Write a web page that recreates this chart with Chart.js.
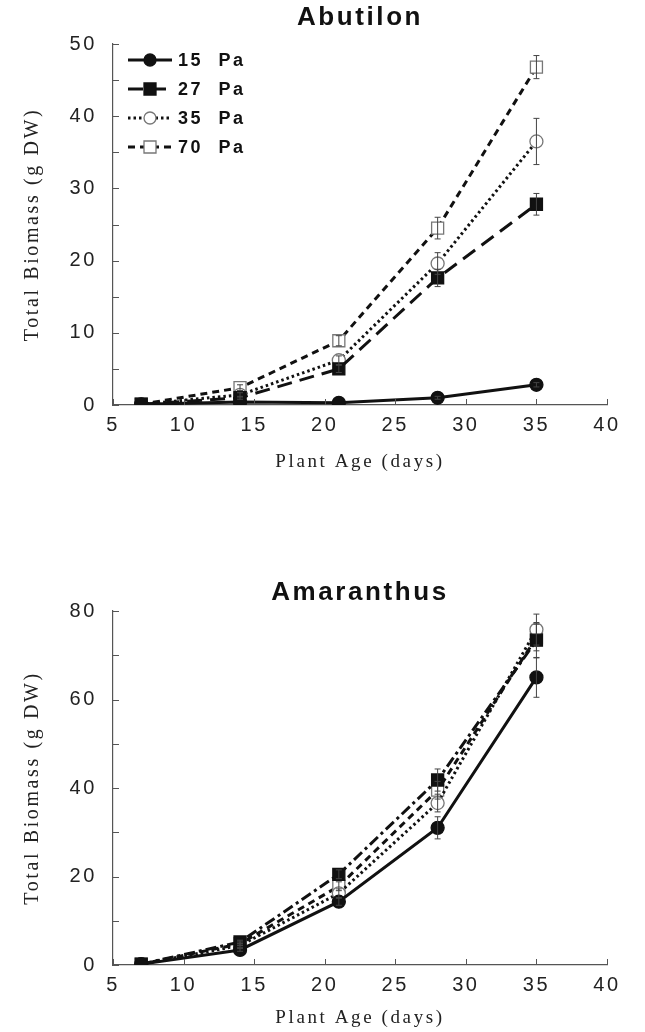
<!DOCTYPE html>
<html><head><meta charset="utf-8">
<script src="https://cdn.jsdelivr.net/npm/chart.js@4.4.0/dist/chart.umd.min.js"></script>
<style>
html,body{margin:0;padding:0;background:#fff;}
#w1{position:absolute;left:0;top:0;width:645px;height:490px;}
#w2{position:absolute;left:0;top:555px;width:645px;height:477px;}
</style></head><body>
<div id="w1"><canvas id="c1"></canvas></div>
<div id="w2"><canvas id="c2"></canvas></div>
<script>
// ---- data ----
const days = [7, 14, 21, 28, 35];
const seriesNames = ['15  Pa', '27  Pa', '35  Pa', '70  Pa'];

const abu15 = [0.1, 0.4, 0.3, 1.0, 2.8];
const abu27 = [0.1, 1.0, 5.0, 17.6, 27.8];
const abu35 = [0.1, 1.4, 6.2, 19.6, 36.5];
const abu70 = [0.1, 2.4, 8.9, 24.5, 46.8];
const abu15Err = [0, 0, 0, 0.2, 0.3];
const abu27Err = [0, 0.2, 0.5, 1.2, 1.5];
const abu35Err = [0, 0.3, 0.6, 1.5, 3.2];
const abu70Err = [0, 0.4, 0.7, 1.5, 1.6];

const ama15 = [0.2, 3.4, 14.3, 31.0, 65.0];
const ama27 = [0.2, 5.2, 20.5, 41.8, 73.4];
const ama35 = [0.2, 4.4, 16.2, 36.6, 75.8];
const ama70 = [0.2, 4.8, 17.8, 39.5, 74.0];
const ama15Err = [0, 0.3, 0.8, 2.5, 4.5];
const ama27Err = [0, 0.4, 1.0, 2.5, 4.0];
const ama35Err = [0, 0.4, 1.0, 2.0, 3.5];
const ama70Err = [0, 0.4, 1.0, 2.0, 3.0];

const xTicks = [5, 10, 15, 20, 25, 30, 35, 40];
const abuYTicks = [0, 10, 20, 30, 40, 50];
const abuYMinor = [0, 5, 10, 15, 20, 25, 30, 35, 40, 45, 50];
const amaYTicks = [0, 20, 40, 60, 80];
const amaYMinor = [0, 10, 20, 30, 40, 50, 60, 70, 80];

// ---- styles ----
const INK = '#111';
const styles = [
  {dash: [], point: 'circle', radius: 6.5, fill: INK, border: INK},
  {dash: [15, 8], point: 'rect', radius: 8.5, fill: INK, border: INK},
  {dash: [2.5, 3], point: 'circle', radius: 6.5, fill: '#fff', border: '#777'},
  {dash: [7, 5], point: 'rect', radius: 8.5, fill: '#fff', border: '#777'}
];
const amaDash = [[], [11, 4, 3, 4], [2.5, 3], [7, 5]];

function pts(vals) { return days.map((d, i) => ({x: d, y: vals[i]})); }

function makeDatasets(valsList, errList, dashList) {
  return valsList.map((vals, i) => {
    const s = styles[i];
    return {
      label: seriesNames[i],
      data: pts(vals),
      errors: errList[i],
      borderColor: INK,
      borderWidth: 3,
      borderDash: dashList[i],
      pointStyle: s.point,
      pointRadius: s.radius,
      pointBackgroundColor: s.fill,
      pointBorderColor: s.border,
      pointBorderWidth: 1.3,
      tension: 0,
      fill: false
    };
  });
}

function legendIcon(i) {
  const c = document.createElement('canvas');
  c.width = 46; c.height = 18;
  const g = c.getContext('2d');
  const s = styles[i];
  g.strokeStyle = INK; g.lineWidth = 3; g.setLineDash(s.dash);
  g.beginPath(); g.moveTo(1, 9); g.lineTo(45, 9); g.stroke();
  g.setLineDash([]);
  g.fillStyle = s.fill; g.strokeStyle = s.border; g.lineWidth = 1.3;
  g.beginPath();
  if (s.point === 'circle') g.arc(23, 9, 6, 0, Math.PI * 2);
  else g.rect(17, 3, 12, 12);
  g.fill(); g.stroke();
  return c;
}
const legendIcons = [0, 1, 2, 3].map(legendIcon);

// ---- plugins ----
const spacingPlugin = {
  id: 'spacing',
  beforeDraw(chart) { chart.ctx.letterSpacing = '2.6px'; }
};
const errorBarPlugin = {
  id: 'errbars',
  afterDatasetsDraw(chart) {
    const ctx = chart.ctx, ys = chart.scales.y;
    chart.data.datasets.forEach((ds, di) => {
      const meta = chart.getDatasetMeta(di);
      ctx.save();
      ctx.strokeStyle = '#444'; ctx.lineWidth = 1; ctx.setLineDash([]);
      ctx.beginPath();
      meta.data.forEach((pt, i) => {
        const e = ds.errors[i];
        if (!e) return;
        const v = ds.data[i].y;
        const y1 = ys.getPixelForValue(v - e), y2 = ys.getPixelForValue(v + e);
        ctx.moveTo(pt.x, y1); ctx.lineTo(pt.x, y2);
        ctx.moveTo(pt.x - 3, y1); ctx.lineTo(pt.x + 3, y1);
        ctx.moveTo(pt.x - 3, y2); ctx.lineTo(pt.x + 3, y2);
      });
      ctx.stroke();
      ctx.restore();
    });
  }
};
const inTicksPlugin = {
  id: 'inTicks',
  afterDraw(chart, args, opts) {
    const {ctx, chartArea} = chart;
    const xs = chart.scales.x, ys = chart.scales.y;
    ctx.save();
    ctx.strokeStyle = '#555'; ctx.lineWidth = 1; ctx.setLineDash([]);
    ctx.beginPath();
    opts.xMinor.forEach(v => {
      const px = Math.round(xs.getPixelForValue(v)) + 0.5;
      ctx.moveTo(px, chartArea.bottom); ctx.lineTo(px, chartArea.bottom - 6);
    });
    opts.yMinor.forEach(v => {
      const py = Math.round(ys.getPixelForValue(v)) + 0.5;
      ctx.moveTo(chartArea.left, py); ctx.lineTo(chartArea.left + 6, py);
    });
    ctx.stroke();
    ctx.restore();
  }
};
// legend drawn inside the plot area, upper left
const insideLegendPlugin = {
  id: 'insideLegend',
  afterDraw(chart, args, opts) {
    if (!opts.show) return;
    const {ctx, chartArea} = chart;
    ctx.save();
    ctx.letterSpacing = '2.6px';
    ctx.font = "bold 18px 'Liberation Sans', Arial, sans-serif";
    ctx.fillStyle = '#111';
    ctx.textBaseline = 'middle';
    ctx.textAlign = 'left';
    chart.data.datasets.forEach((ds, i) => {
      const y = chartArea.top + opts.top + i * opts.pitch;
      const x0 = chartArea.left + opts.left;
      ctx.drawImage(legendIcons[i], x0 - 1, y - 9);
      ctx.fillText(ds.label, x0 + 50, y + 1);
    });
    ctx.restore();
  }
};

Chart.defaults.font.family = "'Liberation Sans', Arial, sans-serif";
Chart.defaults.color = '#222';

function makeChart(canvasId, cfg) {
  return new Chart(document.getElementById(canvasId), {
    type: 'line',
    data: {datasets: makeDatasets(cfg.vals, cfg.errs, cfg.dash)},
    plugins: [spacingPlugin, errorBarPlugin, inTicksPlugin, insideLegendPlugin],
    options: {
      responsive: true,
      maintainAspectRatio: false,
      animation: false,
      devicePixelRatio: 1,
      layout: {padding: {left: 0, right: 38, top: 0, bottom: 0}},
      plugins: {
        title: {
          display: true, text: cfg.title, color: '#111', fullSize: false,
          font: {size: 26, weight: 'bold'},
          padding: cfg.titlePad
        },
        legend: {display: false},
        insideLegend: {show: cfg.legend, top: 16, left: 15, pitch: 29},
        tooltip: {enabled: false},
        inTicks: {xMinor: xTicks, yMinor: cfg.yMinor}
      },
      scales: {
        x: {
          type: 'linear', min: 5, max: 40,
          afterBuildTicks: s => { s.ticks = xTicks.map(v => ({value: v})); },
          afterFit: s => { s.height = cfg.xHeight; },
          grid: {display: false, drawTicks: false},
          border: {display: true, color: '#555', width: 1.2},
          ticks: {font: {size: 20}, color: '#222', padding: 8, maxRotation: 0},
          title: {
            display: true, text: 'Plant Age (days)', color: '#222',
            font: {family: "'Liberation Serif', 'Times New Roman', serif", size: 19},
            padding: {top: 0, bottom: cfg.xTitlePad}
          }
        },
        y: {
          type: 'linear', min: 0, max: cfg.yMax,
          afterBuildTicks: s => { s.ticks = cfg.yTicks.map(v => ({value: v})); },
          afterFit: s => { s.width = 113; },
          grid: {display: false, drawTicks: false},
          border: {display: true, color: '#555', width: 1.2},
          ticks: {font: {size: 20}, color: '#222', padding: 16},
          title: {
            display: true, text: 'Total Biomass (g DW)', color: '#222',
            font: {family: "'Liberation Serif', 'Times New Roman', serif", size: 20},
            padding: {top: 21, bottom: 0}
          }
        }
      }
    }
  });
}

makeChart('c1', {
  title: 'Abutilon',
  vals: [abu15, abu27, abu35, abu70],
  errs: [abu15Err, abu27Err, abu35Err, abu70Err],
  dash: styles.map(s => s.dash),
  yMax: 50, yTicks: abuYTicks, yMinor: abuYMinor,
  titlePad: {top: 2.4, bottom: 10.4},
  xHeight: 85, xTitlePad: 16.6,
  legend: true
});

makeChart('c2', {
  title: 'Amaranthus',
  vals: [ama15, ama27, ama35, ama70],
  errs: [ama15Err, ama27Err, ama35Err, ama70Err],
  dash: amaDash,
  yMax: 80, yTicks: amaYTicks, yMinor: amaYMinor,
  titlePad: {top: 22.4, bottom: 2.4},
  xHeight: 67, xTitlePad: 2.6,
  legend: false
});
</script>
</body></html>
